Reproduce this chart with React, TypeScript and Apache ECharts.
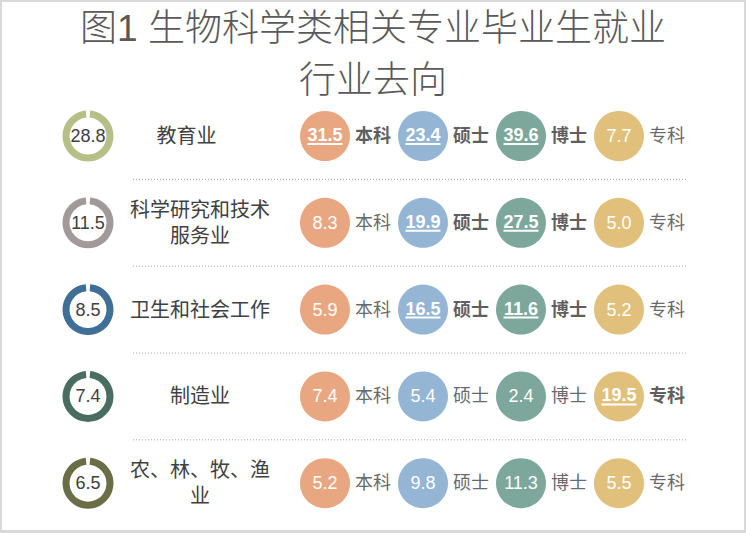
import React, { useEffect, useRef } from 'react';
import * as echarts from 'echarts';

// 行业及其总体占比
const industries = ['教育业', '科学研究和技术\n服务业', '卫生和社会工作', '制造业', '农、林、牧、渔\n业'];
const industryShares = [28.8, 11.5, 8.5, 7.4, 6.5];
const ringColors = ['#b5bf86', '#a19a98', '#3f6e97', '#4a6d62', '#6b6e44'];

// 各学历在各行业中的占比
const degrees = ['本科', '硕士', '博士', '专科'];
const undergrad = [31.5, 8.3, 5.9, 7.4, 5.2];
const master = [23.4, 19.9, 16.5, 5.4, 9.8];
const doctor = [39.6, 27.5, 11.6, 2.4, 11.3];
const college = [7.7, 5.0, 5.2, 19.5, 5.5];
const degreeColors = ['#e8a781', '#94b5d3', '#7ca79a', '#e0c07b'];

// 加粗、下划线标记的数值（行 = 行业，列 = 学历）
const highlighted = [
  [true, true, true, false],
  [false, true, true, false],
  [false, true, true, false],
  [false, false, false, true],
  [false, false, false, false]
];

const FONT = '"Liberation Sans", "Noto Sans CJK SC", sans-serif';
const GRID_LEFT = 276;
const GRID_WIDTH = 392;
const GRID_TOP = 92.6;
const BAND = 86.8;
const rowCenter = (i: number) => GRID_TOP + BAND * (i + 0.5);

const App: React.FC = () => {
  const chartRef = useRef<HTMLDivElement>(null);

  useEffect(() => {
    if (!chartRef.current) return;
    const chart = echarts.init(chartRef.current, undefined, { renderer: 'svg' });

    const degreeValues = [undergrad, master, doctor, college];

    // 左侧圆环
    const rings = industryShares.map((v, i) => ({
      type: 'gauge',
      center: [88, rowCenter(i)],
      radius: 25.5,
      startAngle: 85,
      endAngle: -265,
      min: 0,
      max: 100,
      silent: true,
      axisLine: { lineStyle: { width: 7, color: [[1, ringColors[i]]] } },
      pointer: { show: false },
      progress: { show: false },
      anchor: { show: false },
      axisTick: { show: false },
      splitLine: { show: false },
      axisLabel: { show: false },
      title: { show: false },
      detail: {
        show: true,
        offsetCenter: [0, 0],
        fontSize: 18,
        fontWeight: 'normal',
        color: '#404040',
        fontFamily: FONT,
        formatter: (x: number) => x.toFixed(1)
      },
      data: [{ value: v, name: industries[i] }]
    }));

    // 学历圆点
    const bubbles = degrees.map((d, di) => ({
      type: 'scatter',
      name: d,
      symbolSize: 50,
      silent: true,
      itemStyle: { color: degreeColors[di], opacity: 1 },
      data: degreeValues[di].map((v, ri) => [di, ri, v]),
      label: {
        show: true,
        position: 'inside',
        formatter: (p: any) => {
          const [x, r, v] = p.value;
          const txt = v.toFixed(1);
          return highlighted[r][x] ? `{hv|${txt}}\n{ul|}` : `{nv|${txt}}`;
        },
        rich: {
          hv: { fontSize: 18, fontWeight: 'bold', color: '#fff', lineHeight: 16, fontFamily: FONT },
          ul: { width: 35, height: 2, lineHeight: 2, backgroundColor: '#fff' },
          nv: { fontSize: 18, color: '#fff', fontFamily: FONT }
        }
      }
    }));

    // 学历名称
    const nameLabels = {
      type: 'scatter',
      symbolSize: 50,
      silent: true,
      itemStyle: { color: 'rgba(0,0,0,0)' },
      data: degrees.flatMap((_, di) => industries.map((__, ri) => [di, ri])),
      label: {
        show: true,
        position: 'right',
        distance: 5,
        formatter: (p: any) => {
          const [x, r] = p.value;
          return highlighted[r][x] ? `{b|${degrees[x]}}` : `{n|${degrees[x]}}`;
        },
        rich: {
          b: { fontSize: 18, fontWeight: 'bold', color: '#333', fontFamily: FONT },
          n: { fontSize: 18, color: '#404040', fontFamily: FONT }
        }
      }
    };

    // 行之间的虚线
    const separators = industries.slice(0, -1).map((_, i) => ({
      type: 'line',
      shape: { x1: 133, y1: rowCenter(i) + BAND / 2, x2: 688, y2: rowCenter(i) + BAND / 2 },
      style: { stroke: '#a6a6a6', lineWidth: 1, lineDash: [1, 2] },
      silent: true
    }));

    const option = {
      animation: false,
      backgroundColor: '#fff',
      title: {
        text: '图1 生物科学类相关专业毕业生就业\n行业去向',
        left: 'center',
        top: 2,
        padding: 0,
        textStyle: {
          fontSize: 37,
          fontWeight: 300,
          color: '#595959',
          lineHeight: 52,
          fontFamily: FONT
        }
      },
      grid: { left: GRID_LEFT, width: GRID_WIDTH, top: GRID_TOP, height: BAND * industries.length },
      xAxis: { type: 'category', data: degrees, show: false },
      yAxis: {
        type: 'category',
        data: industries,
        inverse: true,
        axisLine: { show: false },
        axisTick: { show: false },
        splitLine: { show: false },
        axisLabel: {
          align: 'center',
          margin: GRID_LEFT - 200,
          fontSize: 20,
          lineHeight: 26,
          color: '#404040',
          fontFamily: FONT,
          formatter: (v: string, idx: number) => (idx === 0 ? `{s|${v}}` : v),
          rich: {
            s: { fontSize: 20, color: '#404040', fontFamily: FONT, padding: [0, 27, 0, 0] }
          }
        }
      },
      graphic: [
        {
          type: 'rect',
          shape: { x: 1, y: 1, width: 744, height: 530 },
          style: { fill: 'none', stroke: '#d9d9d9', lineWidth: 2 },
          silent: true
        },
        {
          type: 'line',
          shape: { x1: 0, y1: 532.5, x2: 746, y2: 532.5 },
          style: { stroke: '#d9d9d9', lineWidth: 1 },
          silent: true
        },
        ...separators
      ],
      series: [...rings, ...bubbles, nameLabels]
    };

    chart.setOption(option as any);

    return () => {
      chart.dispose();
    };
  }, []);

  return (
    <div
      ref={chartRef}
      style={{ position: 'fixed', left: 0, top: 0, width: 746, height: 533, background: '#fff' }}
    />
  );
};

export default App;
